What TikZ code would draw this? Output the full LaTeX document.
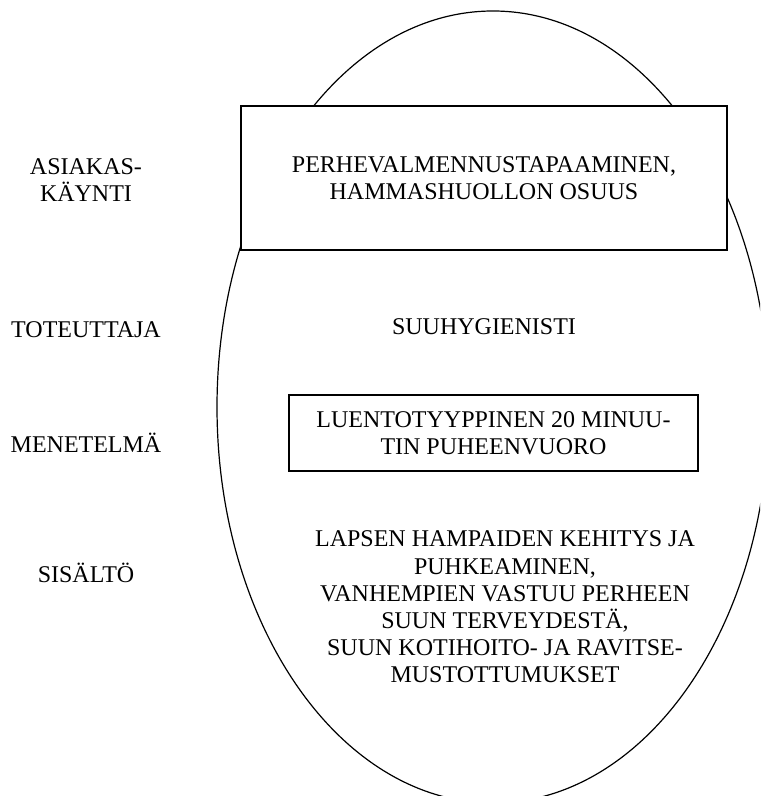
\documentclass[tikz,border=0pt]{standalone}
\usepackage{fontspec}
\setmainfont{Liberation Serif}
\usetikzlibrary{shapes.geometric}

\begin{document}
\begin{tikzpicture}[x=0.5pt, y=-0.5pt,
    every node/.style={font=\fontsize{12}{13.6}\selectfont, align=center},
    box/.style={draw, line width=0.8pt, fill=white, inner sep=0pt}]
    \useasboundingbox (0,0) rectangle (760,796);
    \clip (0,0) rectangle (760,796);
    \path (493, 407) node [draw, ellipse, line width=0.6pt, inner sep=0pt,
        minimum width=276pt, minimum height=396pt] (oval) {};
    \path (484, 178) node [box, minimum width=243pt, minimum height=72pt] (visit)
        {PERHEVALMENNUSTAPAAMINEN,\\HAMMASHUOLLON OSUUS};
    \path (484, 327) node (actor) {SUUHYGIENISTI};
    \path (493.5, 433) node [box, minimum width=204.5pt, minimum height=38pt] (method)
        {LUENTOTYYPPINEN 20 MINUU-\\TIN PUHEENVUORO};
    \path (505, 607) node (content)
        {LAPSEN HAMPAIDEN KEHITYS JA\\PUHKEAMINEN,\\VANHEMPIEN VASTUU PERHEEN\\SUUN TERVEYDESTÄ,\\SUUN KOTIHOITO- JA RAVITSE-\\MUSTOTTUMUKSET};
    \path ( 86, 180) node (visitlbl) {ASIAKAS-\\KÄYNTI};
    \path ( 86, 330) node (actorlbl) {TOTEUTTAJA};
    \path ( 86, 443) node (methodlbl) {MENETELMÄ};
    \path ( 86, 573) node (contentlbl) {SISÄLTÖ};
\end{tikzpicture}
\end{document}
